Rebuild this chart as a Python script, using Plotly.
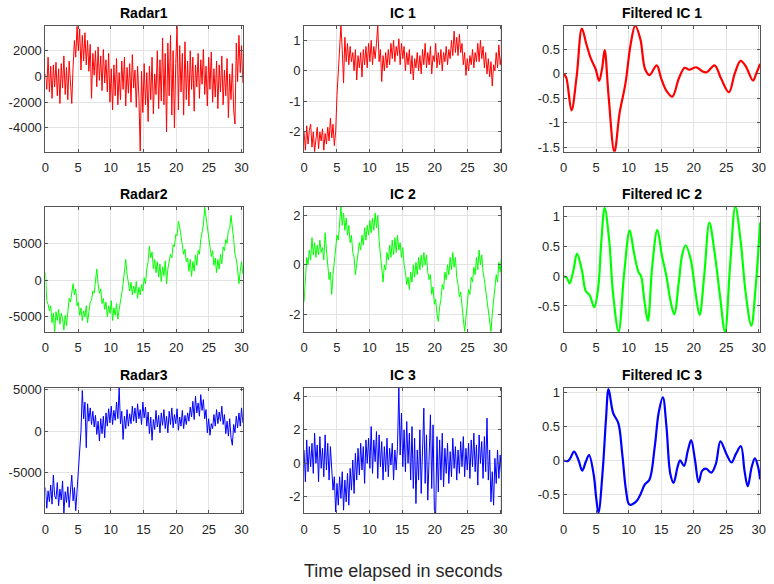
import numpy as np
import plotly.graph_objects as go

# ---------------- data ----------------
radar1 = [
    200, -1000, 1500, -1200, 800, -1700, 900, -800, 1100, -1500,
    600, -2100, 1000, -900, 1600, -1400, 700, -1800, 1200, -600,
    -2100, 800, 2800, 1500, 3900, 2000, 3700, 500, 3200, 1200,
    3400, 900, 2800, 400, 2500, -1700, 1800, 100, 2000, -800,
    2300, -300, 1600, -1100, 2100, -500, 1300, -1200, 1800, -2000,
    600, -2600, 900, -1500, 1400, -2200, 300, -1800, 1200, -1000,
    1500, -2300, 700, -1300, 1000, -2000, 1700, -900, 500, -2400,
    800, -1600, -5800, 400, -2800, 1000, -2200, 300, -3500, 800,
    -1800, 1500, -2900, 200, -1400, 2000, -2500, 1300, -1900, 3000,
    -2200, 1800, -4300, 2600, -1500, 3200, -3000, 2000, -4000, 1000,
    3900, -2600, 2400, -1200, 1800, -3000, 2700, -1800, 1200, -2300,
    2000, -1000, 1500, -2700, 900, -800, 1800, -1700, 1300, -600,
    2100, -1400, 800, -2300, 1500, -1000, 1900, -2000, 600, -1600,
    1200, -2500, 900, -1200, 1600, -2200, 500, -1500, 1400, -3200,
    200, -1800, 1000, -2600, -3700, 2600, -400, 3200, 300, 2400,
    -500,
]
ic1 = [
    -2.0, -2.6, -1.8, -2.4, -1.95, -1.75, -2.5, -2.0, -2.65, -2.1,
    -1.85, -2.55, -2.0, -2.3, -1.9, -2.6, -2.05, -2.4, -1.85, -2.3,
    -1.55, -2.2, -1.75, -2.45, -2.0, -0.8, 0.1, 0.9, 1.48, 0.7,
    -0.4, 1.1, 0.3, 0.9, 0.2, 0.8, 0.3, 0.6, 0.0, 0.7,
    -0.3, 0.5, 0.1, 0.6, -0.2, 0.7, 0.2, 0.8, 0.1, 0.9,
    0.3, 1.0, 0.2, 0.8, 0.4, 0.9, 1.48, 0.3, 0.7, -0.35,
    0.5, 0.0, 0.6, 0.1, 0.7, 0.2, 0.9, 0.4, 1.0, 0.3,
    0.8, 0.5, 1.05, 0.2, 0.9, 0.4, 0.8, 0.0, 0.6, 0.2,
    0.7, -0.1, 0.5, -0.3, 0.4, 0.1, 0.6, 0.0, 0.5, -0.1,
    0.7, 0.2, 0.9, 0.1, 0.6, 0.2, 0.8, -0.1, 0.5, 0.3,
    0.9, 0.1, 0.6, 0.2, 0.7, 0.0, 0.6, 0.3, 0.8, 0.2,
    0.7, 0.4, 1.0, 0.5, 1.3, 0.6, 1.1, 0.5, 1.2, 0.6,
    0.9, 0.2, 0.6, -0.15, 0.4, 0.0, 0.5, 0.2, 0.7, 0.1,
    0.6, 0.3, 0.9, 0.3, 1.0, 0.4, 0.8, 0.1, 0.6, -0.1,
    0.4, -0.2, 0.3, -0.5, 0.2, 0.0, 0.6, 0.1, 0.85, 0.2,
    0.5,
]
radar2 = [
    1000, -2800, -3300, -4200, -3500, -5800, -4500, -7000, -4300, -5500,
    -4000, -6000, -4500, -5300, -6800, -4800, -6200, -3800, -2500, -3000,
    -1500, -500, -2000, -1200, -3500, -3000, -4800, -3800, -5500, -4200,
    -5000, -3500, -5800, -4500, -3000, -2800, -1500, -1800, 200, 1500,
    -500, -1800, -1200, -3200, -2500, -4000, -3000, -5000, -3500, -4500,
    -2800, -5500, -3800, -4800, -3200, -5300, -4000, -2500, -1800, -500,
    1500, 2800, 800, -500, -1500, -300, -2000, -800, -1800, -200,
    -2500, -1000, -2000, -600, -1500, 300, -500, 1500, 2500, 4600,
    3000, 3800, 1500, 2800, 1000, 2500, 400, 2200, -200, 1800,
    600, 2600, -500, 1500, 2800, 3500, 3000, 4800, 4500, 6200,
    6000, 8000, 7200, 6000, 5000, 3500, 4200, 2500, 3000, 1200,
    2800, 500, 2500, 1200, 3400, 2000, 4000, 3500, 5500, 6500,
    7500, 9900, 8500, 7000, 5500, 4500, 3200, 4000, 2000, 3000,
    1000, 2800, 1500, 3500, 2200, 4500, 4000, 5500, 5000, 6800,
    7000, 8800, 6500, 5500, 3500, 2800, 1500, -500, 1200, 2500,
    800,
]
ic2 = [
    -1.5, -0.3, 0.3, 0.0, 0.6, 0.2, 1.1, 0.4, 0.9, 0.3,
    0.8, 0.4, 1.0, 0.5, 0.7, 0.2, 1.3, 0.6, 0.0, -0.6,
    -0.3, -1.2, -0.4, 0.2, 0.7, 1.2, 1.0, 1.9, 2.35, 1.6,
    2.1, 1.4, 1.9, 1.2, 1.6, 0.9, 1.2, 0.5, 0.3, -0.4,
    0.1, 0.5, 0.9, 0.6, 1.2, 0.8, 1.5, 1.0, 1.6, 1.2,
    1.8, 1.3, 1.9, 1.4, 2.1, 1.5, 2.0, 1.0, 0.4, -0.2,
    -0.7, 0.0, -0.2, 0.5, 0.2, 0.8, 0.3, 1.0, 0.4, 1.1,
    0.5, 1.2, 0.6, 0.9, 0.3, 0.7, 0.0, -0.3, -0.8, -0.5,
    -1.0, -0.3, -0.7, 0.0, -0.5, 0.1, -0.4, 0.3, -0.2, 0.4,
    -0.1, 0.5, 0.0, 0.4, -0.3, -0.6, -0.4, -1.2, -0.9, -1.6,
    -1.4, -2.0, -2.3, -1.7, -1.4, -0.8, -1.0, -0.3, -0.6, 0.0,
    -0.4, 0.3, -0.2, 0.5, -0.1, 0.3, -0.5, -0.8, -1.3, -1.1,
    -1.8, -2.2, -2.7, -2.0, -1.6, -1.0, -1.2, -0.5, -0.7, -0.1,
    -0.4, 0.3, -0.2, 0.6, 0.0, 0.4, -0.3, -0.6, -1.0, -1.3,
    -1.8, -2.2, -2.7, -2.0, -1.4, -1.0, -0.4, -0.7, 0.1, -0.3,
    0.3,
]
radar3 = [
    -6800, -9300, -7200, -8500, -6500, -8800, -5300, -7800, -8200, -6200,
    -9000, -7000, -8300, -6000, -9900, -7300, -8600, -6700, -9200, -7500,
    -5300, -8400, -6800, -9600, -7000, -5000, -3000, 0, 4900, 1500,
    3500, -2000, 3300, 1200, 2800, 800, 2400, 500, 1900, -400,
    1200, -1200, 1500, -300, 1800, -800, 2200, 600, 2700, 1000,
    3000, 800, 2500, 1300, 3500, 1500, 5200, 900, 2400, -1000,
    1800, 300, 2600, 600, 2100, 900, 3000, 1200, 2800, 1000,
    3300, 1500, 2600, 800, 3500, 1600, 2900, 600, 2300, -300,
    1700, -1100, 1400, 200, 2500, 500, 1900, -200, 2200, 700,
    2600, 300, 1800, -200, 2400, 800, 2800, 400, 2000, 900,
    2700, 100, 1700, 600, 2500, 300, 1900, 800, 2200, 1200,
    2900, 1700, 3600, 1400, 4200, 2200, 3400, 1800, 4400, 2500,
    3800, 1500, 2600, -200, 1500, -500, 900, 300, 2000, 600,
    2600, 900, 2300, 1200, 3000, 800, 2000, -300, 1200, -600,
    1500, -800, -1700, 800, -200, 1800, 400, 2200, 600, 2800,
    1000,
]
ic3 = [
    0.8, -1.1, 1.4, -0.5, 1.0, -0.2, 1.2, -0.6, 1.8, 0.0,
    1.1, -1.1, 1.6, -0.3, 0.9, -0.8, 1.7, -0.4, 1.2, -1.0,
    1.0, -0.5, -1.6, -0.8, -2.9, -1.2, -2.5, -0.8, -2.1, -0.5,
    -2.8, -1.0, -2.3, -0.6, -2.5, -0.3, -1.6, 0.2, -1.8, 0.6,
    -1.0, 0.9, -0.7, 1.2, -0.4, 1.0, -1.2, 1.4, 0.0, 1.5,
    -0.3, 2.2, -0.6, 1.4, 0.1, 1.9, -0.9, 1.7, -0.2, 1.3,
    -1.0, 1.0, -0.5, 1.5, -0.8, 0.9, -0.1, 1.2, -1.0, 0.8,
    -0.4, 1.0, 4.5, 0.5, 3.0, -0.2, 2.0, -0.5, 2.5, 0.0,
    1.8, -1.0, 2.2, -1.5, 1.5, -2.4, 0.8, -1.0, 2.0, -1.8,
    1.2, 3.3, -1.2, 1.7, -2.2, 1.0, 2.9, -1.5, 2.3, -2.8,
    -3.0, 1.6, -1.7, 1.4, -1.0, 1.8, -1.4, 0.9, -0.6, 1.2,
    -1.2, 0.7, -0.8, 1.5, -0.3, 1.0, -1.0, 0.8, -0.6, 1.3,
    -0.2, 1.6, -0.8, 0.9, -0.4, 1.2, -0.9, 1.4, -0.2, 1.8,
    -0.5, 1.1, -1.3, 1.7, 0.0, 1.3, -0.9, 1.6, -0.5, 2.7,
    -1.0, 0.8, -2.3, -0.5, -2.5, 0.3, -1.2, 0.8, -0.9, 0.5,
    -0.6,
]

fic1_t = [0.0, 0.4, 1.2, 2.0, 2.8, 3.5, 4.2, 4.9, 5.45, 5.9, 6.3, 6.9, 7.8, 8.6, 9.5,
          10.3, 11.0, 11.8, 12.5, 13.2, 14.3, 15.0, 15.8, 16.7, 17.7, 18.6, 19.3, 20.4,
          21.3, 22.0, 23.2, 24.2, 25.4, 26.3, 27.2, 28.0, 29.1, 29.6, 30.2]
fic1_v = [0.0, -0.08, -0.75, -0.05, 0.92, 0.6, 0.3, 0.1, -0.15, 0.1, 0.48, -0.45, -1.6,
          -0.8, -0.2, 0.6, 0.98, 0.7, 0.1, -0.03, 0.17, -0.1, -0.35, -0.47, -0.1, 0.12,
          0.08, 0.13, 0.05, 0.03, 0.17, -0.1, -0.38, 0.0, 0.26, 0.15, -0.14, 0.0, 0.2]

fic2_t = [0.0, 0.5, 0.9, 1.5, 2.05, 2.8, 3.4, 4.0, 4.7, 5.3, 5.8, 6.3, 7.0, 7.6, 8.45,
          9.3, 10.15, 10.8, 11.5, 11.9, 12.4, 12.95, 13.6, 14.4, 15.1, 15.8, 16.4, 17.0,
          17.7, 18.2, 18.75, 19.5, 20.3, 20.9, 21.6, 22.4, 23.2, 24.0, 24.8, 25.6, 26.4,
          27.2, 28.0, 28.85, 29.5, 30.2]
fic2_v = [0.0, -0.03, -0.12, 0.1, 0.38, 0.1, -0.25, -0.32, -0.52, -0.2, 0.6, 1.15, 0.6,
          -0.3, -0.93, 0.05, 0.77, 0.4, 0.07, 0.0, -0.4, -0.75, 0.15, 0.78, 0.35, 0.0,
          -0.4, -0.64, -0.1, 0.35, 0.52, 0.3, -0.3, -0.65, 0.0, 0.9, 0.4, -0.3, -0.93,
          0.2, 1.17, 0.6, -0.3, -0.83, -0.2, 0.9]

fic3_t = [0.0, 0.6, 1.0, 1.6, 2.3, 2.85, 3.4, 3.9, 4.6, 5.0, 5.35, 6.0, 6.5, 6.9, 7.6,
          8.4, 9.0, 9.6, 10.1, 11.2, 11.8, 12.5, 13.2, 14.0, 14.6, 15.25, 15.8, 16.4,
          16.9, 17.5, 17.9, 18.5, 19.1, 19.6, 20.2, 20.75, 21.3, 21.9, 22.7, 23.4, 24.1,
          25.0, 25.8, 26.5, 27.25, 27.8, 28.3, 28.9, 29.4, 29.9, 30.2]
fic3_v = [0.0, -0.01, 0.03, 0.13, 0.0, -0.15, -0.02, 0.08, -0.2, -0.55, -0.77, -0.15,
          0.6, 1.05, 0.7, 0.55, 0.1, -0.45, -0.65, -0.6, -0.5, -0.35, -0.28, 0.2, 0.7,
          0.93, 0.5, -0.2, -0.33, -0.1, 0.0, -0.08, 0.15, 0.3, 0.0, -0.32, -0.15, -0.12,
          -0.18, -0.05, 0.28, 0.1, -0.03, 0.1, 0.21, -0.15, -0.38, -0.1, 0.03, -0.1, -0.28]

titles = ["Radar1", "IC 1", "Filtered IC 1",
          "Radar2", "IC 2", "Filtered IC 2",
          "Radar3", "IC 3", "Filtered IC 3"]
x_ticks = [0, 5, 10, 15, 20, 25, 30]
y_ticks = [[-4000, -2000, 0, 2000], [-2, -1, 0, 1], [-1.5, -1, -0.5, 0, 0.5],
           [-5000, 0, 5000], [-2, 0, 2], [-0.5, 0, 0.5, 1],
           [-5000, 0, 5000], [-2, 0, 2, 4], [-0.5, 0, 0.5, 1]]
y_ranges = [[-5850, 3950], [-2.65, 1.48], [-1.595, 0.98],
            [-7050, 9950], [-2.72, 2.35], [-0.935, 1.165],
            [-9880, 5200], [-2.97, 4.5], [-0.775, 1.067]]
x_label = "Time elapsed in seconds"
# ----------------------------------------------------------------

W, H = 774, 584
cols_px = [(42, 242), (304, 504), (567, 766)]
rows_px = [(20, 148), (204, 331), (388, 515)]
colors = ["#ff0000", "#00ff00", "#0000ff"]
FONT = "Liberation Sans, Arial, Helvetica, sans-serif"
XMAX = 30.2

noisy = [radar1, ic1, None, radar2, ic2, None, radar3, ic3, None]
smooth = {2: (fic1_t, fic1_v), 5: (fic2_t, fic2_v), 8: (fic3_t, fic3_v)}

fig = go.Figure()
layout = dict(width=W, height=H, margin=dict(l=0, r=0, t=0, b=0),
              paper_bgcolor="white", plot_bgcolor="white", showlegend=False,
              annotations=[])

for i in range(9):
    r, c = divmod(i, 3)
    k = i + 1
    xs = "x" if k == 1 else f"x{k}"
    ys = "y" if k == 1 else f"y{k}"
    col = colors[r]
    if noisy[i] is not None:
        vals = noisy[i]
        t = np.linspace(0, XMAX, len(vals))
        fig.add_trace(go.Scatter(x=t, y=vals, mode="lines", xaxis=xs, yaxis=ys,
                                 line=dict(color=col, width=1.0), hoverinfo="skip"))
    else:
        tt, vv = smooth[i]
        fig.add_trace(go.Scatter(x=tt, y=vv, mode="lines", xaxis=xs, yaxis=ys,
                                 line=dict(color=col, width=2.2, shape="spline", smoothing=1.0),
                                 hoverinfo="skip"))
    l, rr = cols_px[c]
    top, bot = rows_px[r]
    common = dict(showgrid=True, gridcolor="#e3e3e3", gridwidth=1, zeroline=False,
                  showline=True, mirror="ticks", linecolor="#555555", linewidth=1,
                  ticks="inside", ticklen=3, tickcolor="#555555",
                  tickfont=dict(family=FONT, size=13, color="#262626"), fixedrange=True)
    layout["xaxis" if k == 1 else f"xaxis{k}"] = dict(
        domain=[l / W, rr / W], range=[0, XMAX], anchor=ys,
        tickmode="array", tickvals=x_ticks, ticktext=[str(v) for v in x_ticks],
        ticklabelstandoff=4, **common)
    layout["yaxis" if k == 1 else f"yaxis{k}"] = dict(
        domain=[1 - bot / H, 1 - top / H], range=y_ranges[i], anchor=xs,
        tickmode="array", tickvals=y_ticks[i], ticktext=["%g" % v for v in y_ticks[i]],
        **common)
    layout["annotations"].append(dict(
        text=f"<b>{titles[i]}</b>", x=(l + rr) / 2 / W, y=1 - top / H,
        xref="paper", yref="paper", xanchor="center", yanchor="middle", yshift=13,
        showarrow=False, font=dict(family=FONT, size=14, color="#000000")))

layout["annotations"].append(dict(
    text=x_label, x=404 / W, y=1 - 574 / H, xref="paper", yref="paper",
    xanchor="center", yanchor="middle", showarrow=False,
    font=dict(family=FONT, size=18, color="#262626")))

fig.update_layout(**layout)
fig.write_html("out.html", config={"displayModeBar": False},
               post_script="document.body.style.margin='0';document.body.style.overflow='hidden';")
